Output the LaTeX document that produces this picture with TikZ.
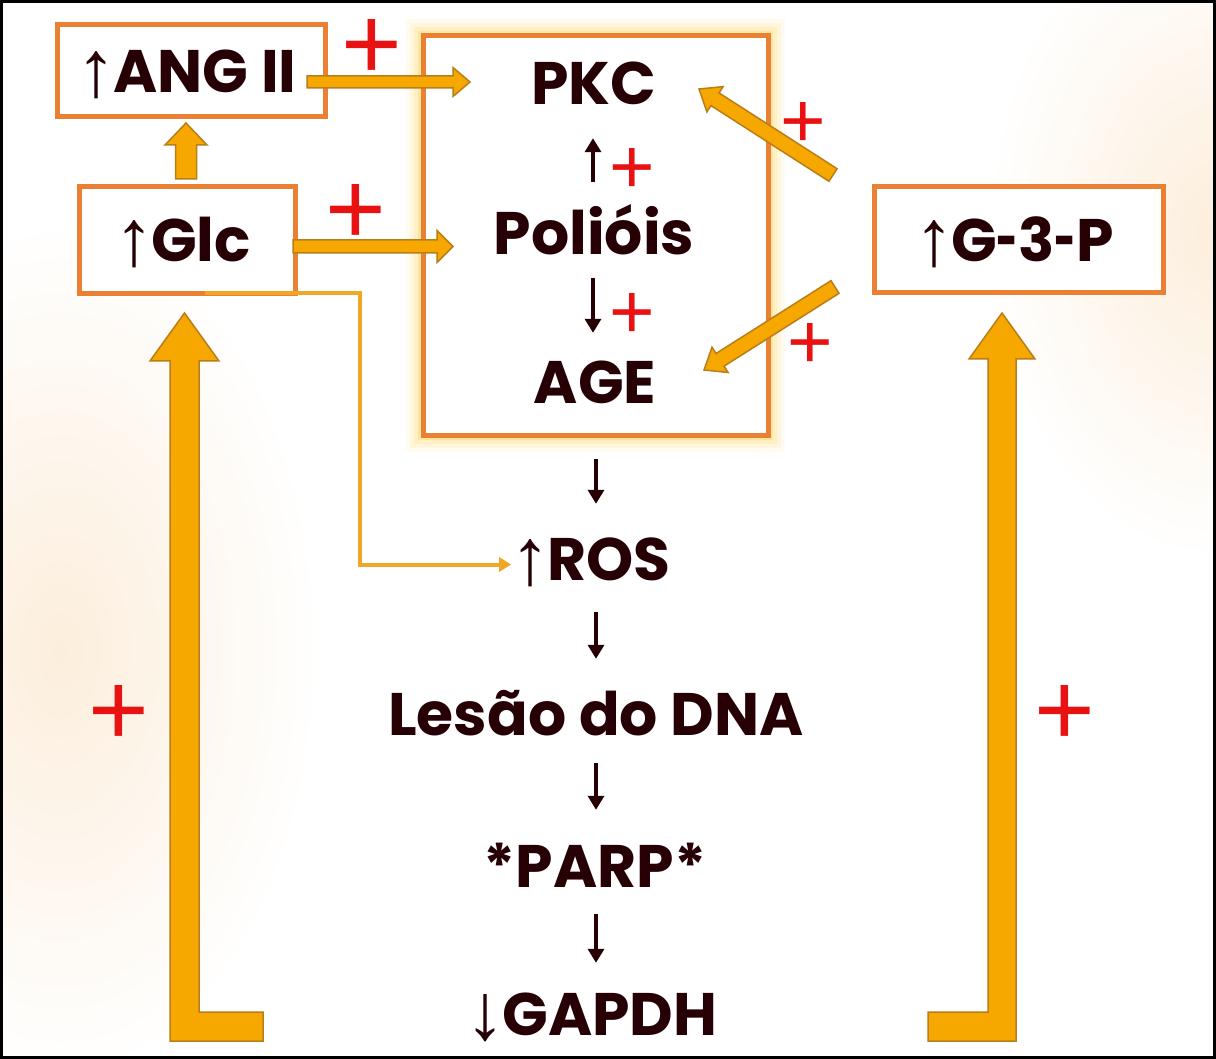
\documentclass[tikz,border=0pt]{standalone}
\usepackage{fontspec}
\setmainfont{Poppins}
\newfontfamily\arrowfont{Liberation Sans}
\newfontfamily\plusfont{Liberation Sans}
\usetikzlibrary{arrows.meta,calc}
\definecolor{boxor}{RGB}{233,128,52}
\definecolor{afill}{RGB}{246,168,0}
\definecolor{aedge}{RGB}{185,125,25}
\definecolor{thinln}{RGB}{240,168,36}
\definecolor{plusred}{RGB}{232,18,18}
\definecolor{txt}{RGB}{38,0,4}
\definecolor{glowc}{RGB}{255,210,80}
\definecolor{peach}{RGB}{252,238,220}
\pgfdeclarelayer{bglayer}
\pgfdeclarelayer{glowlayer}
\pgfsetlayers{bglayer,glowlayer,main}
\newcommand{\upA}{{\arrowfont\bfseries\fontsize{80}{80}\selectfont\kern-9pt\raisebox{-4pt}{↑}\kern-3pt}}
\newcommand{\dnA}{{\arrowfont\bfseries\fontsize{80}{80}\selectfont\kern-9pt\raisebox{-4pt}{↓}\kern-3pt}}
\newcommand{\hy}{\scalebox{0.62}[1]{-}}
\newcommand{\fatarrow}[5]{%
  \coordinate (fatC) at ($(#2)!#5!(#1)$);
  \draw[fat] ($(#1)!#3!90:(#2)$) -- ($(fatC)!#3!-90:(#1)$) -- ($(fatC)!#4!-90:(#1)$) -- (#2) -- ($(fatC)!#4!90:(#1)$) -- ($(fatC)!#3!90:(#1)$) -- ($(#1)!#3!-90:(#2)$) -- cycle;}
\tikzset{
  lbl/.style={font=\fontsize{60}{60}\selectfont\bfseries, text=txt, inner sep=0pt, text height=43pt, text depth=0pt, anchor=base},
  boxnode/.style={draw=boxor, line width=5pt, fill=white, inner sep=0pt, outer sep=0pt, font=\fontsize{60}{60}\selectfont\bfseries, text=txt, text height=43pt, text depth=0pt},
  plusbig/.style={text=plusred, font=\plusfont\fontsize{104}{104}\selectfont, inner sep=0pt, text height=60pt, text depth=0pt, anchor=base},
  plussm/.style={text=plusred, font=\plusfont\fontsize{78}{78}\selectfont, inner sep=0pt, text height=45pt, text depth=0pt, anchor=base},
  chain/.style={draw=txt, line width=4pt, -{Triangle[width=16pt,length=14pt]}},
  thinarrow/.style={draw=thinln, line width=4pt, -{Triangle[width=14pt,length=12pt]}},
  fat/.style={fill=afill, draw=aedge, line width=1.5pt, line join=miter},
}
\begin{document}
\begin{tikzpicture}[x=1pt,y=-1pt]
\useasboundingbox (0,0) rectangle (1216,1059);
\begin{pgfonlayer}{bglayer}
  \fill[white] (0,0) rectangle (1216,1059);
  \shade[inner color=peach, outer color=white] (60,650) ellipse (260 and 430);
  \shade[inner color=peach, outer color=white] (1216,230) ellipse (230 and 330);
\end{pgfonlayer}
% boxes
\node[boxnode, minimum width=268pt, minimum height=92pt] (ang) at (191,71) {\upA ANG II};
\node[boxnode, minimum width=216pt, minimum height=107pt] (glc) at (187,240.5) {\upA Glc};
\node[boxnode, minimum width=289pt, minimum height=106pt] (g3p) at (1018.5,240) {\upA G\hy 3\hy P};
\node[draw=boxor, line width=5pt, fill=white, outer sep=0pt, minimum width=345pt, minimum height=399pt] (main) at (595.5,235.5) {};
\begin{pgfonlayer}{glowlayer}
  \foreach \w/\o in {34/0.08, 26/0.12, 18/0.18, 10/0.3}
    \draw[glowc, line width=\w pt, opacity=\o] (main.north west) rectangle (main.south east);
\end{pgfonlayer}
% labels
\node[lbl] (pkc) at (594,105) {PKC};
\node[lbl] (pol) at (594,255) {Polióis};
\node[lbl] (age) at (595,403) {AGE};
\node[lbl] (ros) at (595,580) {\upA ROS};
\node[lbl] (les) at (596,735) {Lesão do DNA};
\node[lbl] (parp) at (595,887) {*PARP*};
\node[lbl] (gap) at (596,1035) {\dnA GAPDH};
% chain arrows
\draw[chain, shorten <=24pt, shorten >=33pt] (main.south -| les.north) -- (les.north |- ros.north);
\draw[chain, shorten <=32pt, shorten >=33pt] (les.north |- ros.south) -- (les.north);
\draw[chain, shorten <=28pt, shorten >=34pt] (les.south) -- (les.south |- parp.north);
\draw[chain, shorten <=27pt, shorten >=29pt] (les.south |- parp.south) -- (les.south |- gap.north);
\draw[chain, shorten <=30pt, shorten >=33pt] ([xshift=-1pt]pol.north) -- ([xshift=-1pt]pol.north |- pkc.south);
\draw[chain, shorten <=23pt, shorten >=27pt] ([xshift=-1pt]pol.south) -- ([xshift=-1pt]pol.south |- age.north);
% thin line glc -> ros
\draw[thinarrow, shorten >=8pt] ($(glc.south west)!0.585!(glc.south east)+(0,-1)$) -- ++(155,0) |- ([yshift=-6pt]ros.west);
% fat arrows
\coordinate (angout) at ($(ang.east)+(-18,11)$);
\coordinate (pkcx) at ($(main.west)+(47,0)$);
\coordinate (pkcin) at (pkcx |- angout);
\fatarrow{angout}{pkcin}{6pt}{14.5pt}{17pt}
\coordinate (glcout) at ($(glc.east)+(-2,6)$);
\coordinate (polx) at ($(main.west)+(30,0)$);
\coordinate (polin) at (polx |- glcout);
\fatarrow{glcout}{polin}{6.5pt}{16pt}{16pt}
\coordinate (gup0) at ($(glc.north)+(-1,-8)$);
\coordinate (gup1) at ($(gup0 |- ang.south)+(0,6)$);
\fatarrow{gup0}{gup1}{10.5pt}{21pt}{22pt}
\coordinate (d1a) at ($(g3p.north west)+(-41,-12)$);
\coordinate (d1b) at ($(main.north east)+(-69,53)$);
\fatarrow{d1a}{d1b}{7.5pt}{15pt}{19pt}
\coordinate (d2a) at ($(g3p.south west)+(-39,-6)$);
\coordinate (d2b) at ($(main.south east)+(-64,-65)$);
\fatarrow{d2a}{d2b}{7.5pt}{15pt}{19pt}
% big L arrows
\coordinate (ltip) at ($(glc.south)+(-2.5,19)$);
\draw[fat] ($(ltip)+(-14.5,728)$) -- ++(93,0) -- ++(0,-29) -- ++(-64,0) -- ++(0,-651) -- ++(20,0) -- (ltip) -- ($(ltip)+(-34.5,48)$) -- ++(20,0) -- cycle;
\coordinate (rtip) at ($(g3p.south)+(-16.5,20)$);
\draw[fat] ($(rtip)+(14,728)$) -- ++(-88,0) -- ++(0,-29) -- ++(60,0) -- ++(0,-653) -- ++(-19,0) -- (rtip) -- ($(rtip)+(33,46)$) -- ++(-19,0) -- cycle;
% plus signs (base anchored: glyph centre about 0.35em above baseline)
\node[plusbig] (p1) at (372,80) {+};
\node[plusbig] (p2) at (356,245) {+};
\node[plussm] (p3) at (632,194) {+};
\node[plussm] (p4) at (632,339) {+};
\node[plussm] (p5) at (803,148) {+};
\node[plussm] (p6) at (810,369) {+};
\node[plusbig] (p7) at (119,745) {+};
\node[plusbig] (p8) at (1065,745) {+};
% frame
\draw[black, line width=3pt] (1.5,1.5) rectangle (1214.5,1057.5);
\end{tikzpicture}
\end{document}
